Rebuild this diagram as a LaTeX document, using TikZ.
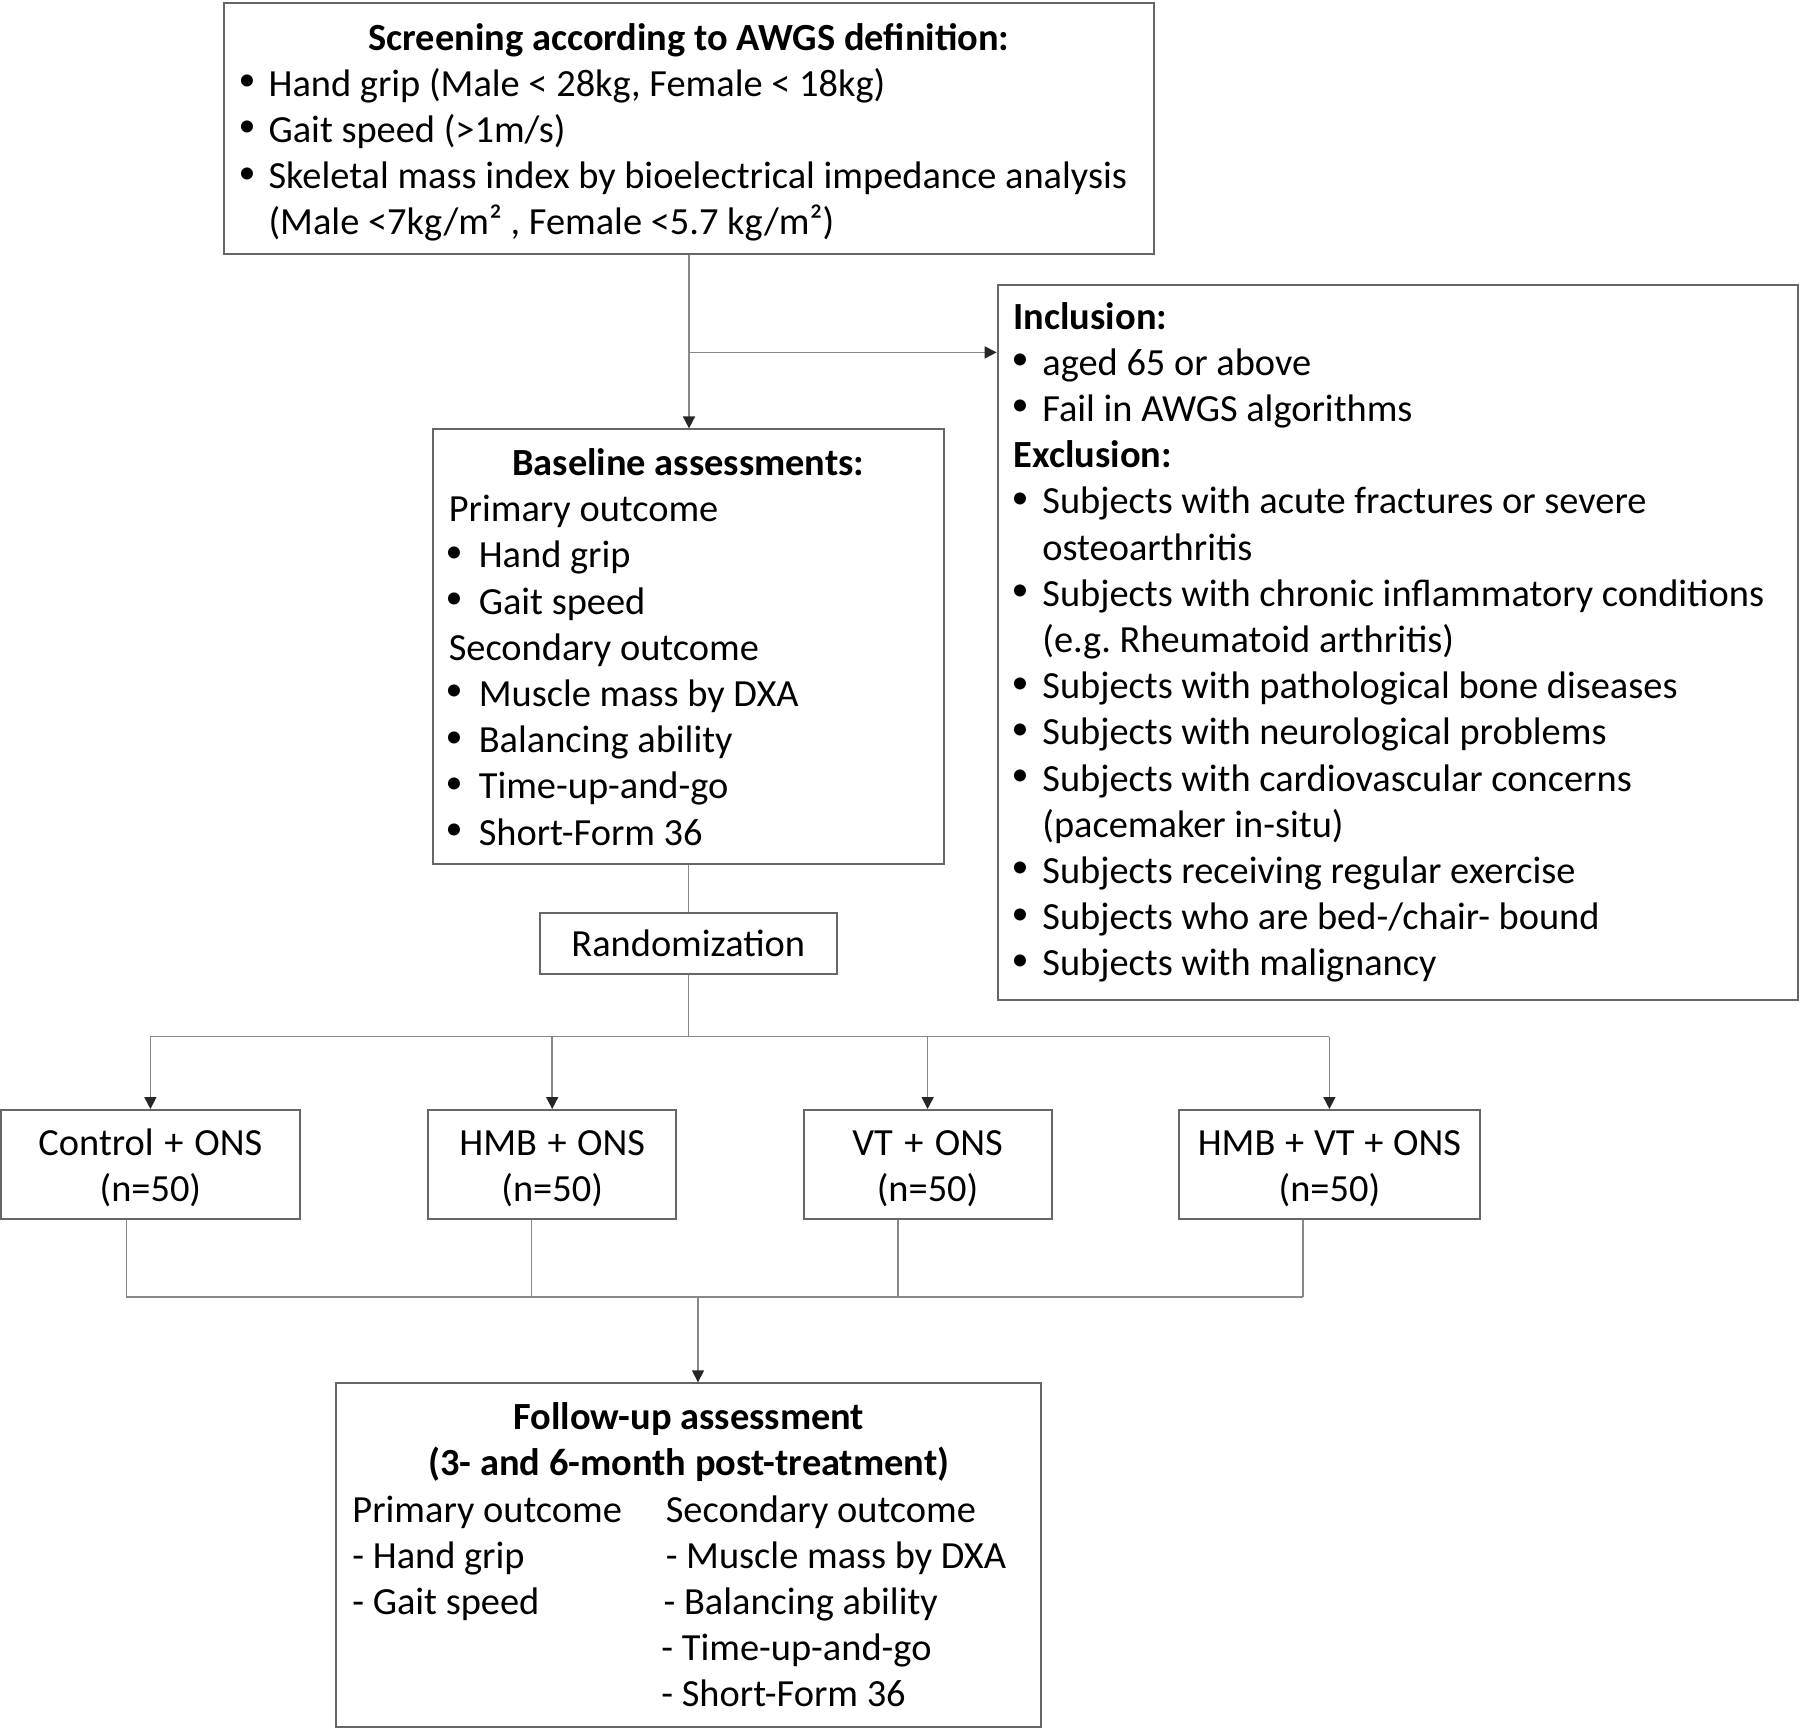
\documentclass[tikz,border=0pt]{standalone}
\usepackage{fontspec}
\setmainfont{Carlito}
\usetikzlibrary{arrows.meta,calc}
\definecolor{boxc}{HTML}{666666}
\definecolor{linec}{HTML}{888888}
\DeclareRobustCommand\boxfont{\fontsize{19.2}{23.1}\selectfont\frenchspacing}
\DeclareRobustCommand\bitem[2]{\makebox[#2][l]{\hspace*{#1}\makebox[0pt][c]{\raisebox{2.8pt}{\fontsize{17}{17}\selectfont\textbullet}}}}
\begin{document}
\begin{tikzpicture}[x=0.5pt,y=-0.5pt,
  box/.style={draw=boxc, line width=1pt, inner xsep=0pt, inner ysep=0pt,
    align=left, font=\boxfont,
    execute at begin node={\spaceskip=0pt\xspaceskip=0pt\relax}},
  cbox/.style={box, align=center},
  conn/.style={draw=linec, line width=0.8pt},
  arr/.style={conn, -{Triangle[length=6pt,width=6pt,color=black!85]}}]
\useasboundingbox[fill=white] (0,0) rectangle (1800,1735);

% top screening box
\node[box, minimum width=465pt, minimum height=125.5pt, text width=465pt, text height=0pt, text depth=78.5pt] (top) at (689,128.5) {%
\makebox[\linewidth]{\bfseries Screening according to AWGS definition:}\\
\bitem{11.6pt}{22.3pt}Hand grip (Male < 28kg, Female < 18kg)\\
\bitem{11.6pt}{22.3pt}Gait speed (>1m/s)\\
\bitem{11.6pt}{22.3pt}Skeletal mass index by bioelectrical impedance analysis\\
\hspace*{22.3pt}(Male <7kg/m² , Female <5.7 kg/m²)};

% inclusion / exclusion box
\node[box, minimum width=400.1pt, minimum height=357.7pt, text width=400.1pt] (incl) at (1397.7,642.4) {%
\hspace*{8pt}\textbf{Inclusion:}\\
\bitem{11.2pt}{22.4pt}aged 65 or above\\
\bitem{11.2pt}{22.4pt}Fail in AWGS algorithms\\
\hspace*{8pt}\textbf{Exclusion:}\\
\bitem{11.2pt}{22.4pt}Subjects with acute fractures or severe\\
\hspace*{22.4pt}osteoarthritis\\
\bitem{11.2pt}{22.4pt}Subjects with chronic inflammatory conditions\\
\hspace*{22.4pt}(e.g. Rheumatoid arthritis)\\
\bitem{11.2pt}{22.4pt}Subjects with pathological bone diseases\\
\bitem{11.2pt}{22.4pt}Subjects with neurological problems\\
\bitem{11.2pt}{22.4pt}Subjects with cardiovascular concerns\\
\hspace*{22.4pt}(pacemaker in-situ)\\
\bitem{11.2pt}{22.4pt}Subjects receiving regular exercise\\
\bitem{11.2pt}{22.4pt}Subjects who are bed-/chair- bound\\
\bitem{11.2pt}{22.4pt}Subjects with malignancy};

% baseline box
\node[box, minimum width=255.5pt, minimum height=217.5pt, text width=255.5pt] (base) at (688.3,646.9) {%
\makebox[\linewidth]{\bfseries Baseline assessments:}\\
\hspace*{8pt}Primary outcome\\
\bitem{10.6pt}{23pt}Hand grip\\
\bitem{10.6pt}{23pt}Gait speed\\
\hspace*{8pt}Secondary outcome\\
\bitem{10.6pt}{23pt}Muscle mass by DXA\\
\bitem{10.6pt}{23pt}Balancing ability\\
\bitem{10.6pt}{23pt}Time-up-and-go\\
\bitem{10.6pt}{23pt}Short-Form 36};

% randomization
\node[cbox, minimum width=148.7pt, minimum height=30.4pt] (rand) at (688.3,943.1) {Randomization};

% group boxes
\tikzset{grp/.style={cbox, minimum height=54.6pt, text height=0pt, text depth=9.6pt}}
\node[grp, minimum width=149.3pt, text width=149.3pt] (b1) at (150.4,1164.6) {Control + ONS\\(n=50)};
\node[grp, minimum width=124pt, text width=124pt] (b2) at (552.2,1164.6) {HMB + ONS\\(n=50)};
\node[grp, minimum width=124pt, text width=124pt] (b3) at (927.6,1164.6) {VT + ONS\\(n=50)};
\node[grp, minimum width=150.4pt, text width=150.4pt] (b4) at (1329.4,1164.6) {HMB + VT + ONS\\(n=50)};

% follow-up box
\node[box, minimum width=352.4pt, minimum height=171.7pt, text width=352.4pt] (fol) at (688.8,1555) {%
\makebox[\linewidth]{\bfseries Follow-up assessment}\\
\makebox[\linewidth]{\bfseries (3- and 6-month post-treatment)}\\
\hspace*{8pt}\makebox[156.7pt][l]{Primary outcome}Secondary outcome\\
\hspace*{8pt}\makebox[156.7pt][l]{- Hand grip}- Muscle mass by DXA\\
\hspace*{8pt}\makebox[155.6pt][l]{- Gait speed}- Balancing ability\\
\hspace*{8pt}\hspace*{154.5pt}- Time-up-and-go\\
\hspace*{8pt}\hspace*{154.5pt}- Short-Form 36};

% connectors
\coordinate (br) at (689,352.4);
\draw[arr] (top.south) -- (top.south |- base.north);
\draw[arr] (br) -- (br -| incl.west);
\draw[conn] (base.south) -- (rand.north);
\coordinate (sp) at (688.3,1036.6);
\draw[conn] (rand.south) -- (sp);
\draw[conn] (sp -| b1.north) -- (sp -| b4.north);
\foreach \b in {b1,b2,b3,b4} \draw[arr] (sp -| \b.north) -- (\b.north);
\coordinate (jn) at (698,1297.2);
\coordinate (o1) at ($(b1.south)+(-24.1,0)$);
\coordinate (o2) at ($(b2.south)+(-20.7,0)$);
\coordinate (o3) at ($(b3.south)+(-29.9,0)$);
\coordinate (o4) at ($(b4.south)+(-26.4,0)$);
\foreach \o in {o1,o2,o3,o4} \draw[conn] (\o) -- (\o |- jn);
\draw[conn] (o1 |- jn) -- (o4 |- jn);
\draw[arr] (jn) -- (jn |- fol.north);
\end{tikzpicture}
\end{document}
